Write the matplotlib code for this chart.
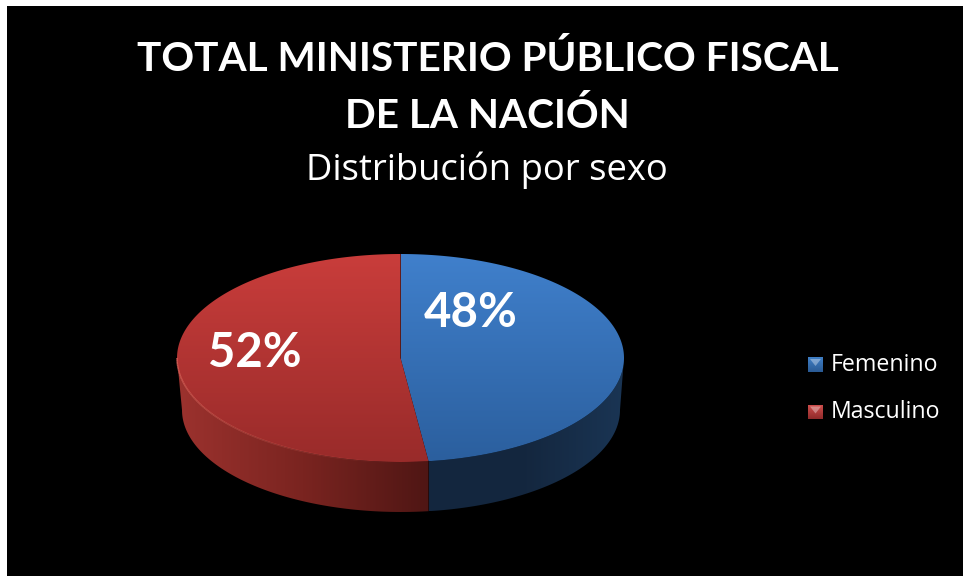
import numpy as np
import matplotlib
matplotlib.use('Agg')
import matplotlib.pyplot as plt
from matplotlib.colors import LinearSegmentedColormap
from matplotlib.patches import Polygon, Rectangle
from matplotlib.collections import LineCollection

title_lines = ['TOTAL MINISTERIO PÚBLICO FISCAL', 'DE LA NACIÓN']
subtitle = 'Distribución por sexo'
categories = ['Femenino', 'Masculino']
values = [48, 52]
value_labels = ['48%', '52%']

top_colors = [['#4080cc', '#2b5f9e'], ['#c93d3b', '#992b2a']]
side_colors = [['#13263e', '#14273f', '#1a3554'], ['#9c322e', '#7a2420', '#4f1614']]
swatch_colors = [['#3f7fc6', '#2a5a94'], ['#d2504e', '#8f2a2a']]

W, H = 963, 576
# pie geometry in pixels
cx, cy, rx, ry = 400.5, 358, 223.5, 104
bx, by, brx, bry = 401, 410, 219, 102

fig = plt.figure(figsize=(W / 100, H / 100), dpi=100, facecolor='white')
ax = fig.add_axes([0, 0, 1, 1])
ax.axis('off')
ax.set_xlim(0, W)
ax.set_ylim(H, 0)
ax.add_patch(Rectangle((7, 6), W - 7, H - 6, fc='black', ec='none', zorder=0))


def top_pt(t):
    return cx + rx * np.sin(t), cy - ry * np.cos(t)


def bot_pt(t):
    return bx + brx * np.sin(t), by - bry * np.cos(t)


def fill_grad(pts, colors, vertical=True):
    pts = np.asarray(pts)
    x0, x1 = pts[:, 0].min(), pts[:, 0].max()
    y0, y1 = pts[:, 1].min(), pts[:, 1].max()
    cmap = LinearSegmentedColormap.from_list('g', colors)
    ramp = np.linspace(0, 1, 256)
    img = ramp[:, None] if vertical else ramp[None, :]
    im = ax.imshow(img, cmap=cmap, extent=(x0, x1, y1, y0), origin='upper',
                   aspect='auto', interpolation='bilinear', zorder=2)
    im.set_clip_path(Polygon(pts, closed=True, transform=ax.transData))


edges = np.concatenate([[0], np.cumsum(values)]) / np.sum(values) * 2 * np.pi

# sides first (only the front half of the pie shows)
for i in range(len(values)):
    a = max(edges[i], np.pi / 2)
    b = min(edges[i + 1], 3 * np.pi / 2)
    t = np.linspace(a, b, 120)
    tx, ty = top_pt(t)
    ux, uy = bot_pt(t)
    if i == 0:
        # boundary between the slices drops straight down
        ux[-1] = tx[-1]
    else:
        ux[0] = tx[0]
    pts = np.column_stack([np.r_[tx, ux[::-1]], np.r_[ty, uy[::-1]]])
    fill_grad(pts, side_colors[i], vertical=False)

# top faces
for i in range(len(values)):
    t = np.linspace(edges[i], edges[i + 1], 240)
    tx, ty = top_pt(t)
    pts = np.column_stack([np.r_[cx, tx], np.r_[cy, ty]])
    fill_grad(pts, top_colors[i])

# light rim along the front edge of the red slice
t = np.linspace(edges[1] + 0.12, 3 * np.pi / 2, 100)
rx_pts, ry_pts = top_pt(t)
segs = np.stack([np.column_stack([rx_pts[:-1], ry_pts[:-1]]),
                 np.column_stack([rx_pts[1:], ry_pts[1:]])], axis=1)
rim = np.linspace(0, 0.8, len(segs))
ax.add_collection(LineCollection(segs, colors=[(0.88, 0.4, 0.36, r) for r in rim],
                                 linewidths=1.1, zorder=4))

# data labels
ax.text(471, 313, value_labels[0], color='white', family='Lato', weight='bold',
        fontsize=34, ha='center', va='center', zorder=6)
ax.text(254.5, 353, value_labels[1], color='white', family='Lato', weight='bold',
        fontsize=34, ha='center', va='center', zorder=6)

# titles
ax.text(487.5, 59, title_lines[0], color='white', family='Lato', weight='bold',
        fontsize=29.2, ha='center', va='center')
ax.text(487, 116, title_lines[1], color='white', family='Lato', weight='bold',
        fontsize=29.2, ha='center', va='center')
ax.text(487, 170, subtitle, color='white', family='Open Sans',
        fontsize=26.2, ha='center', va='center')

# legend
legend_y = [365, 412.5]
for i, name in enumerate(categories):
    y = legend_y[i]
    box = [(808, y - 8), (823, y - 8), (823, y + 7), (808, y + 7)]
    fill_grad(box, swatch_colors[i])
    ax.add_patch(Polygon([(810, y - 6), (821, y - 6), (815.5, y + 1)],
                         fc='white', alpha=0.35, ec='none', zorder=3))
    ax.text(831, y, name, color='white', family='Open Sans', fontsize=16.7,
            ha='left', va='center')

ax.set_xlim(0, W)
ax.set_ylim(H, 0)
fig.savefig('out.png', dpi=100, facecolor='white')
